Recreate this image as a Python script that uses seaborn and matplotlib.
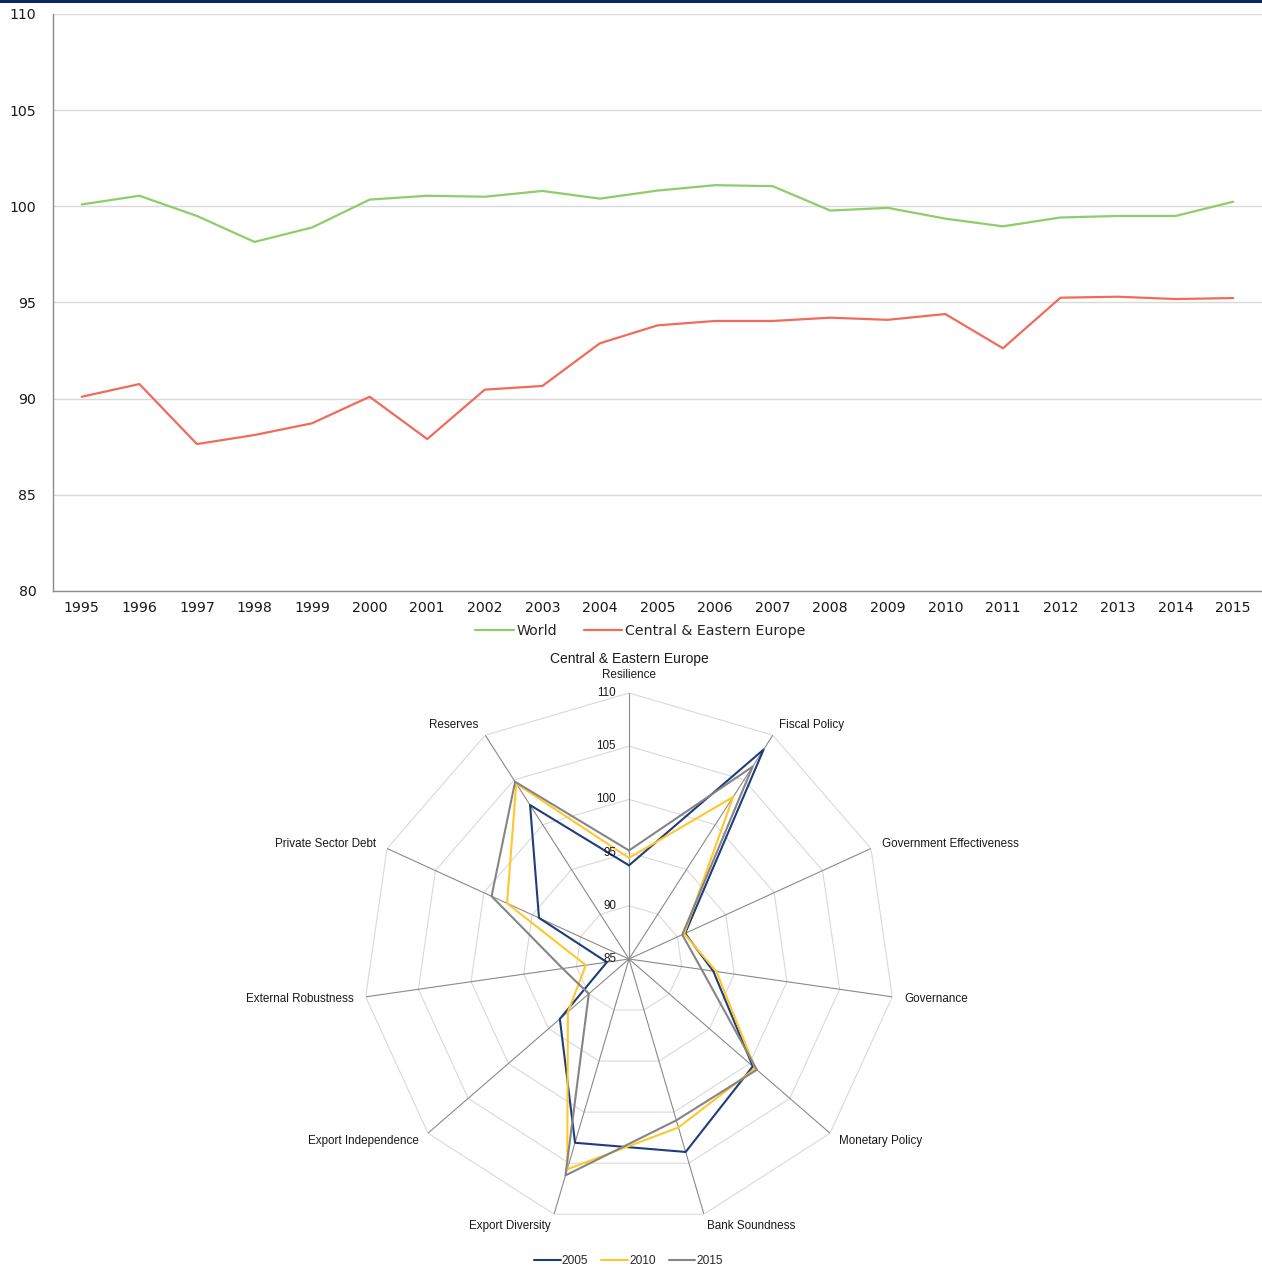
import numpy as np
import pandas as pd
import matplotlib
matplotlib.use("Agg")
import matplotlib.pyplot as plt
from matplotlib.patches import Rectangle
from matplotlib.lines import Line2D
import seaborn as sns

# ---- resilience index, 1995-2015 ----
years = list(range(1995, 2016))
world = [100.1, 100.55, 99.5, 98.15, 98.9, 100.35, 100.55, 100.5, 100.8, 100.4,
         100.82, 101.1, 101.05, 99.78, 99.92, 99.36, 98.96, 99.42, 99.5, 99.5, 100.24]
cee = [90.1, 90.76, 87.64, 88.11, 88.72, 90.1, 87.9, 90.47, 90.66, 92.88,
       93.81, 94.04, 94.04, 94.21, 94.1, 94.4, 92.62, 95.25, 95.3, 95.18, 95.23]
line_series = ["World", "Central & Eastern Europe"]

# ---- Central & Eastern Europe components ----
components = ["Resilience", "Fiscal Policy", "Government Effectiveness", "Governance",
              "Monetary Policy", "Bank Soundness", "Export Diversity",
              "Export Independence", "External Robustness", "Private Sector Debt",
              "Reserves"]
cee_2005 = [93.8, 108.4, 90.8, 93.0, 100.4, 103.9, 103.0, 93.6, 87.1, 94.3, 102.2]
cee_2010 = [94.5, 103.1, 90.7, 93.3, 100.7, 101.5, 105.6, 92.6, 89.1, 97.6, 104.6]
cee_2015 = [95.2, 106.5, 90.5, 91.9, 100.9, 100.8, 106.2, 90.0, 91.3, 99.2, 104.8]
radar_years = ["2005", "2010", "2015"]
radar_ticks = [85, 90, 95, 100, 105, 110]

sns.set_style("white")
plt.rcParams["font.family"] = ["DejaVu Sans"]

W, H = 1262, 1268
fig = plt.figure(figsize=(W / 100, H / 100), dpi=100)

# navy band along the top edge
fig.add_artist(Rectangle((0, 1 - 3 / H), 1, 3 / H, transform=fig.transFigure,
                         color="#0b2463", lw=0))

# ================= line chart =================
ax = fig.add_axes([53 / W, 1 - 591 / H, (W - 53) / W, 577 / H])
df = pd.DataFrame({
    "year": years * 2,
    "value": world + cee,
    "series": [line_series[0]] * len(years) + [line_series[1]] * len(years),
})
line_colors = {line_series[0]: "#8fcd68", line_series[1]: "#ef6c5c"}
sns.lineplot(data=df, x="year", y="value", hue="series", palette=line_colors,
             linewidth=1.6, ax=ax, legend=False)
ax.set_xlim(1994.5, 2015.5)
ax.set_ylim(80, 110)
ax.set_yticks([80, 85, 90, 95, 100, 105, 110])
ax.set_xticks(years)
ax.set_xlabel("")
ax.set_ylabel("")
ax.yaxis.grid(True, color="#d9d9d9", lw=1.0)
ax.set_axisbelow(True)
for s in ["top", "right"]:
    ax.spines[s].set_visible(False)
for s in ["left", "bottom"]:
    ax.spines[s].set_color("#8c8c8c")
    ax.spines[s].set_linewidth(1.0)
ax.tick_params(axis="both", length=0, labelsize=10.2, colors="#1a1a1a")
ax.tick_params(axis="y", pad=12)
ax.tick_params(axis="x", pad=7)

handles = [Line2D([], [], color=line_colors[s], lw=1.6) for s in line_series]
fig.legend(handles, line_series, loc="center", bbox_to_anchor=(0.5075, 1 - 631 / H),
           ncol=2, frameon=False, fontsize=10.2, handlelength=2.7,
           handletextpad=0.2, columnspacing=1.9)

# ================= radar chart =================
R = 266
cx, cy = 629, 959
rax = fig.add_axes([(cx - R) / W, 1 - (cy + R) / H, 2 * R / W, 2 * R / H],
                   projection="polar")
rax.set_theta_zero_location("N")
rax.set_theta_direction(-1)
rax.set_ylim(85, 110)
rax.grid(False)
rax.spines["polar"].set_visible(False)
rax.set_xticks([])
rax.set_yticks([])
rax.patch.set_alpha(0)

n = len(components)
theta = np.linspace(0, 2 * np.pi, n, endpoint=False)
theta_c = np.append(theta, 2 * np.pi)

# polygon rings and spokes
for r in radar_ticks[1:]:
    rax.plot(theta_c, [r] * (n + 1), color="#d9d9d9", lw=0.8, zorder=1)
for t in theta:
    rax.plot([t, t], [85, 110], color="#8a8a8a", lw=0.8, zorder=2)

radar_colors = {"2005": "#1f3d7c", "2010": "#ffc72c", "2015": "#858585"}
for yr, vals in zip(radar_years, [cee_2005, cee_2010, cee_2015]):
    sns.lineplot(x=theta_c, y=vals + vals[:1], sort=False, estimator=None,
                 color=radar_colors[yr], linewidth=1.5, ax=rax, zorder=3)
rax.set_xlabel("")
rax.set_ylabel("")

rfont = ["Liberation Sans", "DejaVu Sans"]
for r in radar_ticks:
    rax.annotate(str(r), xy=(0, r), xytext=(-13, 0), textcoords="offset pixels",
                 ha="right", va="center", fontsize=8.4, family=rfont,
                 color="#1a1a1a", zorder=4)

for t, name in zip(theta, components):
    s, c = np.sin(t), np.cos(t)
    if abs(s) < 0.1:
        ha = "center"
    else:
        ha = "left" if s > 0 else "right"
    off = 18 if name == components[0] else 12
    rax.annotate(name, xy=(t, 110), xytext=(off * s, off * c),
                 textcoords="offset pixels", ha=ha, va="center",
                 fontsize=8.4, family=rfont, color="#1a1a1a",
                 annotation_clip=False)

fig.text(cx / W, 1 - 659 / H, "Central & Eastern Europe", ha="center", va="center",
         fontsize=10, family=rfont, color="#1a1a1a")

rhandles = [Line2D([], [], color=radar_colors[y], lw=1.5) for y in radar_years]
fig.legend(rhandles, radar_years, loc="center", bbox_to_anchor=(0.498, 1 - 1261 / H),
           ncol=3, frameon=False, prop={"family": rfont, "size": 8.6},
           handlelength=2.2, handletextpad=0.1, columnspacing=1.1,
           borderpad=0.0)

fig.savefig("out.png", dpi=100)
